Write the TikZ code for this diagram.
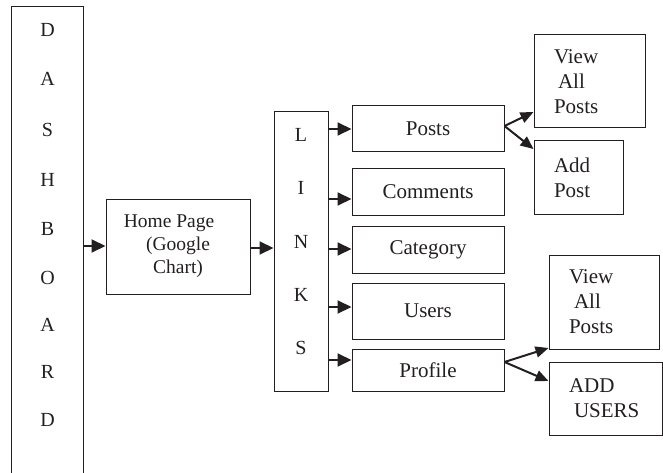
\documentclass[tikz,border=0pt]{standalone}
\usepackage{fontspec}
\setmainfont{Liberation Serif}
\usetikzlibrary{arrows.meta}
\definecolor{ink}{RGB}{35,31,32}
\begin{document}
\begin{tikzpicture}[x=1pt,y=-1pt, color=ink,
  box/.style={draw, line width=1pt, inner sep=0pt, font=\fontsize{21}{25}\selectfont},
  lbox/.style={box, align=left, inner xsep=20pt},
  arr/.style={line width=2pt, -{Triangle[length=14pt,width=13pt]}},
  darr/.style={line width=2pt, -{Triangle[length=13pt,width=11pt]}},
  letter/.style={font=\fontsize{20}{24}\selectfont, inner sep=0pt}]
\useasboundingbox (0,0) rectangle (663,473);

% DASHBOARD column (open at the bottom)
\node[minimum width=71pt, minimum height=466pt, anchor=north, inner sep=0pt] (dash) at (47.5,7) {};
\draw[line width=1pt] (dash.south west) -- (dash.north west) -- (dash.north east) -- (dash.south east);
\foreach \ch/\yy/\nm in {D/30/d1, A/79/d2, S/130/d3, H/180/d4, B/229/d5, O/278/d6, A/325/d7, R/372/d8, D/420/d9}
  \node[letter] (\nm) at (47.5,\yy) {\ch};

% Home page
\node[box, minimum width=144pt, minimum height=95pt, align=center,
      font=\fontsize{19.5}{23}\selectfont] (home) at (178,246.5)
  {Home Page\hspace*{18pt}\\(Google\\Chart)};

% LINKS column
\node[box, minimum width=54pt, minimum height=279pt] (links) at (301,251.5) {};
\foreach \ch/\yy/\nm in {L/135/l1, I/188/l2, N/242/l3, K/295/l4, S/348/l5}
  \node[letter] (\nm) at (301,\yy) {\ch};

% Middle column
\node[box, minimum width=152pt, minimum height=46pt] (posts)    at (428,129)   {Posts};
\node[box, minimum width=152pt, minimum height=46pt] (comments) at (428,192)   {Comments};
\node[box, minimum width=152pt, minimum height=47pt] (category) at (428,249.5) {Category};
\node[box, minimum width=152pt, minimum height=56pt] (users)    at (428,311)   {Users};
\node[box, minimum width=152pt, minimum height=42pt] (profile)  at (428,370)   {Profile};

% Right column
\node[lbox, text width=71pt, minimum height=93pt] (vap1) at (589.5,81.5) {View\\\hspace*{4pt}All\\Posts};
\node[lbox, text width=49pt, minimum height=73pt] (addpost) at (578.5,177.5) {Add\\Post};
\node[lbox, text width=70pt, minimum height=94pt] (vap2) at (604,302) {View\\\hspace*{5pt}All\\Posts};
\node[lbox, text width=73pt, minimum height=73pt] (addusers) at (605.5,398.5) {ADD\\\hspace*{5pt}USERS};

% Connectors
\draw[arr] (dash.east |- 0,246) -- (home.west |- 0,246);
\draw[arr] (home.east |- 0,248) -- (links.west |- 0,248);
\draw[arr] (links.east |- 0,129) -- (posts.west |- 0,129);
\draw[arr] (links.east |- 0,199) -- (comments.west |- 0,199);
\draw[arr] (links.east |- 0,249) -- (category.west |- 0,249);
\draw[arr] (links.east |- 0,307) -- (users.west |- 0,307);
\draw[arr] (links.east |- 0,360) -- (profile.west |- 0,360);

\coordinate (pstart) at (posts.east |- 0,126);
\draw[darr] (pstart) -- (vap1.west |- 0,112);
\draw[darr] (pstart) -- (addpost.west |- 0,149);
\coordinate (prstart) at (profile.east |- 0,362);
\draw[darr] (prstart) -- (vap2.west |- 0,348);
\draw[darr] (prstart) -- (addusers.west |- 0,381);
\end{tikzpicture}
\end{document}
